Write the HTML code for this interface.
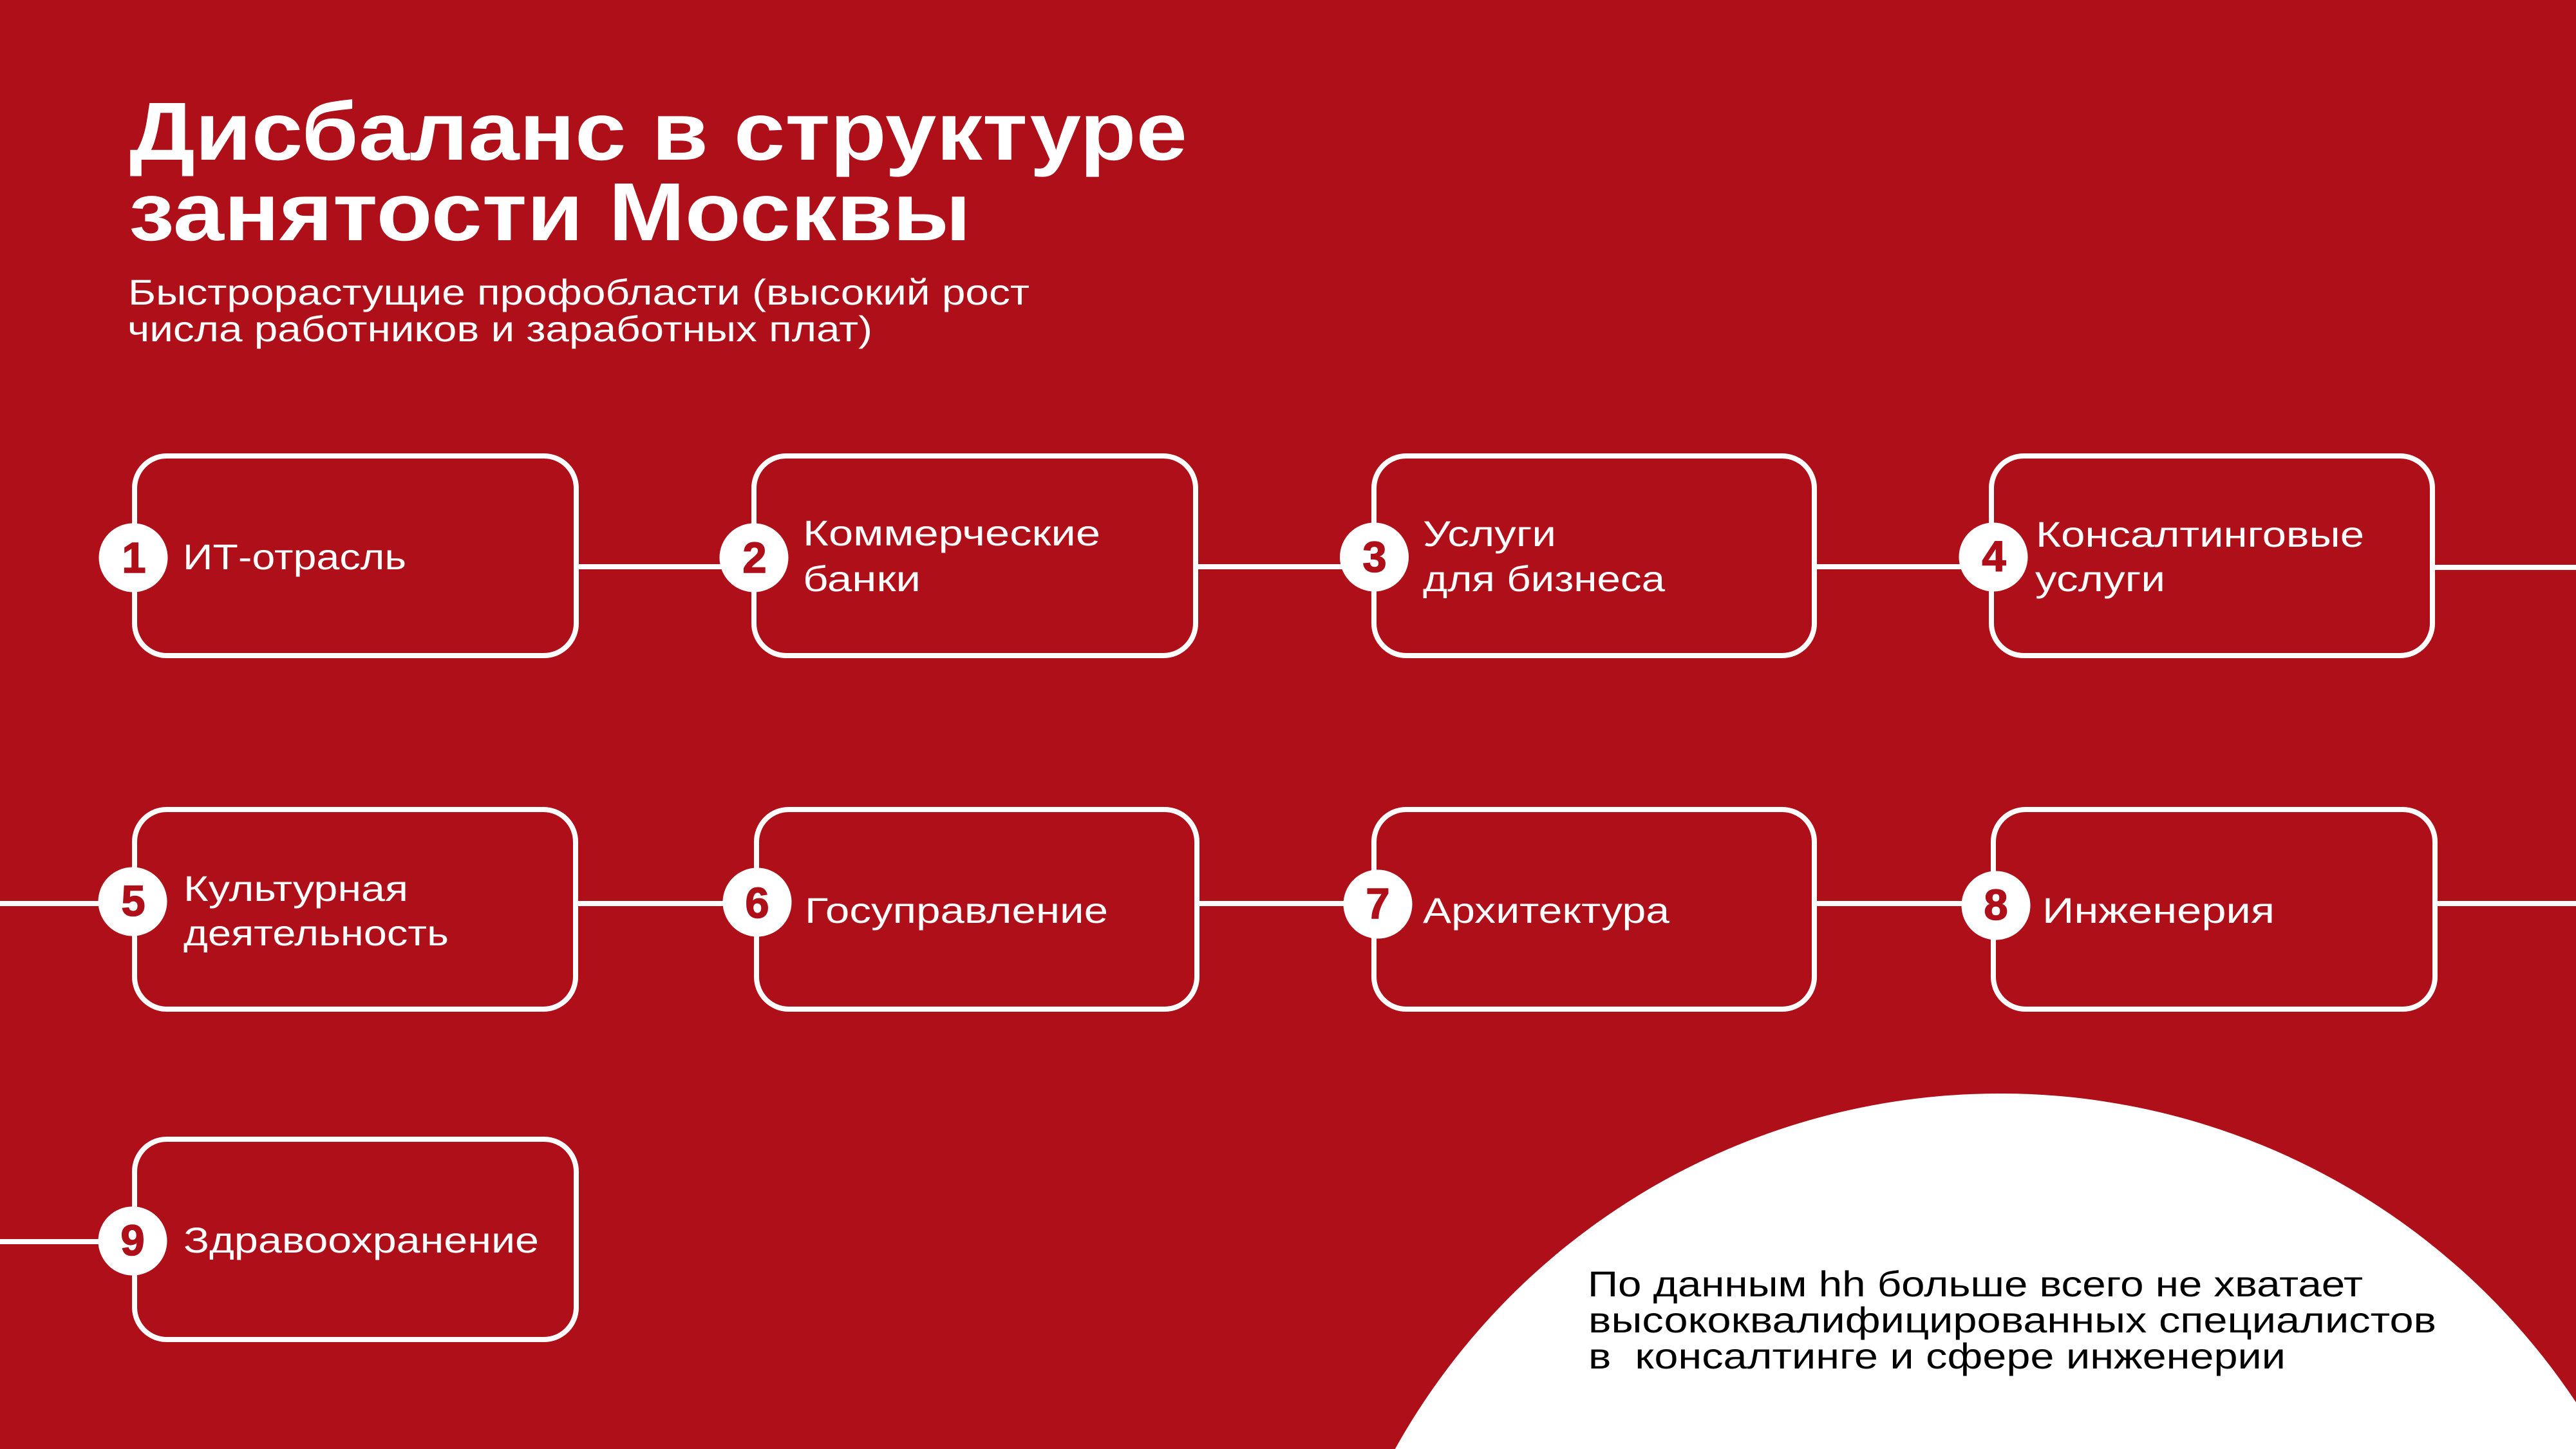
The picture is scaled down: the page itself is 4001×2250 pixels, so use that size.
<!DOCTYPE html>
<html lang="ru">
<head>
<meta charset="utf-8">
<title>Дисбаланс в структуре занятости Москвы</title>
<style>
html,body{margin:0;padding:0;background:#AF0F18;width:4001px;height:2250px;overflow:hidden}
svg{display:block;overflow:hidden}
text{font-family:"Liberation Sans",sans-serif;white-space:pre}
.t{font-weight:700;font-size:128px;fill:#fff}
.s{font-size:56px;fill:#fff}
.l{font-size:56px;fill:#fff}
.b{font-size:56px;fill:#000}
.n{font-weight:700;font-size:67px;fill:#AF0F18;stroke:#AF0F18;stroke-width:1.5;text-anchor:middle}
.box{fill:none;stroke:#fff;stroke-width:8}
.c{stroke:#fff;stroke-width:8}
</style>
</head>
<body>
<svg width="4001" height="2250" viewBox="0 0 4001 2250" xmlns="http://www.w3.org/2000/svg">
<rect width="4001" height="2250" fill="#AF0F18"/>
<path d="M2166.8 2250A1075 1075 0 0 1 4001 2177.5L4001 2250Z" fill="#fff"/>

<text class="t" x="201" y="248" textLength="1643" lengthAdjust="spacingAndGlyphs">Дисбаланс в структуре</text>
<text class="t" x="200" y="373" textLength="1308" lengthAdjust="spacingAndGlyphs">занятости Москвы</text>
<text class="s" x="199" y="473" textLength="1400" lengthAdjust="spacingAndGlyphs">Быстрорастущие профобласти (высокий рост</text>
<text class="s" x="198" y="530" textLength="1157" lengthAdjust="spacingAndGlyphs">числа работников и заработных плат)</text>

<!-- connectors -->
<line class="c" x1="895" y1="880" x2="1125" y2="880"/>
<line class="c" x1="1857" y1="880" x2="2090" y2="880"/>
<line class="c" x1="2818" y1="880" x2="3050" y2="880"/>
<line class="c" x1="3778" y1="881" x2="4001" y2="881"/>
<line class="c" x1="0" y1="1403" x2="160" y2="1403"/>
<line class="c" x1="894" y1="1403" x2="1130" y2="1403"/>
<line class="c" x1="1859" y1="1403" x2="2095" y2="1403"/>
<line class="c" x1="2818" y1="1403" x2="3055" y2="1403"/>
<line class="c" x1="3782" y1="1403" x2="4001" y2="1403"/>
<line class="c" x1="0" y1="1928" x2="160" y2="1928"/>

<!-- boxes -->
<rect class="box" x="209" y="708" width="686" height="310" rx="50" ry="50"/>
<rect class="box" x="1171" y="708" width="686" height="310" rx="50" ry="50"/>
<rect class="box" x="2134" y="708" width="684" height="310" rx="50" ry="50"/>
<rect class="box" x="3093" y="708" width="685" height="310" rx="50" ry="50"/>
<rect class="box" x="209" y="1257" width="685" height="310" rx="50" ry="50"/>
<rect class="box" x="1175" y="1257" width="684" height="310" rx="50" ry="50"/>
<rect class="box" x="2134" y="1257" width="684" height="310" rx="50" ry="50"/>
<rect class="box" x="3096" y="1257" width="686" height="310" rx="50" ry="50"/>
<rect class="box" x="209" y="1769" width="686" height="311" rx="50" ry="50"/>

<!-- number circles -->
<circle cx="207" cy="866" r="53.5" fill="#fff"/>
<circle cx="1171" cy="866" r="53.5" fill="#fff"/>
<circle cx="2134.5" cy="865" r="53.5" fill="#fff"/>
<circle cx="3096" cy="865" r="53.5" fill="#fff"/>
<circle cx="206" cy="1400" r="53.5" fill="#fff"/>
<circle cx="1176" cy="1401" r="53.5" fill="#fff"/>
<circle cx="2140" cy="1404" r="53.5" fill="#fff"/>
<circle cx="3100" cy="1406" r="53.5" fill="#fff"/>
<circle cx="206" cy="1927" r="53.5" fill="#fff"/>

<text class="n" x="208" y="889">1</text>
<text class="n" x="1172" y="889">2</text>
<text class="n" x="2135" y="888">3</text>
<text class="n" x="3097" y="887">4</text>
<text class="n" x="207" y="1422">5</text>
<text class="n" x="1176" y="1425">6</text>
<text class="n" x="2140" y="1426">7</text>
<text class="n" x="3100" y="1428">8</text>
<text class="n" x="206" y="1949">9</text>

<!-- labels -->
<text class="l" x="284" y="884" textLength="347" lengthAdjust="spacingAndGlyphs">ИТ-отрасль</text>
<text class="l" x="1247" y="847" textLength="462" lengthAdjust="spacingAndGlyphs">Коммерческие</text>
<text class="l" x="1247" y="918" textLength="183" lengthAdjust="spacingAndGlyphs">банки</text>
<text class="l" x="2210" y="848" textLength="207" lengthAdjust="spacingAndGlyphs">Услуги</text>
<text class="l" x="2210" y="918" textLength="376" lengthAdjust="spacingAndGlyphs">для бизнеса</text>
<text class="l" x="3162" y="849" textLength="510" lengthAdjust="spacingAndGlyphs">Консалтинговые</text>
<text class="l" x="3161" y="918" textLength="202" lengthAdjust="spacingAndGlyphs">услуги</text>
<text class="l" x="285" y="1399" textLength="349" lengthAdjust="spacingAndGlyphs">Культурная</text>
<text class="l" x="285" y="1468" textLength="412" lengthAdjust="spacingAndGlyphs">деятельность</text>
<text class="l" x="1250" y="1433" textLength="471" lengthAdjust="spacingAndGlyphs">Госуправление</text>
<text class="l" x="2210" y="1433" textLength="383" lengthAdjust="spacingAndGlyphs">Архитектура</text>
<text class="l" x="3172" y="1433" textLength="361" lengthAdjust="spacingAndGlyphs">Инженерия</text>
<text class="l" x="285" y="1945" textLength="552" lengthAdjust="spacingAndGlyphs">Здравоохранение</text>

<!-- note -->
<text class="b" x="2466" y="2013" textLength="1204" lengthAdjust="spacingAndGlyphs">По данным hh больше всего не хватает</text>
<text class="b" x="2467" y="2069" textLength="1317" lengthAdjust="spacingAndGlyphs">высококвалифицированных специалистов</text>
<text class="b" x="2467" y="2125" textLength="1083" lengthAdjust="spacingAndGlyphs" xml:space="preserve">в  консалтинге и сфере инженерии</text>
</svg>
</body>
</html>
